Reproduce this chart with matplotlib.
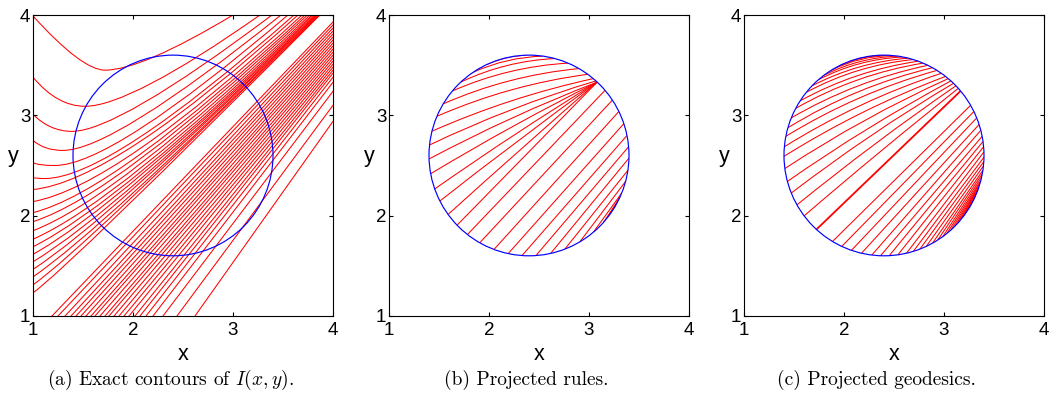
import numpy as np
import matplotlib
matplotlib.use("Agg")
import matplotlib.pyplot as plt
from matplotlib.patches import Circle, PathPatch
from matplotlib.path import Path

plt.rcParams["font.family"] = ["Liberation Sans", "DejaVu Sans"]
plt.rcParams["mathtext.fontset"] = "cm"

RED = "#ff0000"
BLUE = "#0000ff"
CENTER = (2.4, 2.6)
RADIUS = 1.0
TICKS = [1, 2, 3, 4]
CAPTIONS = ["(a) Exact contours of $I(x,y)$.", "(b) Projected rules.", "(c) Projected geodesics."]

# (a) contours that dip before turning up: left-edge start, start slope,
# lowest point, exit on the top edge and slope there
a_dip_y0 = [3.99, 3.38, 3.01, 2.75, 2.53, 2.38]
a_dip_s0 = [-1.1, -1.2, -1.0, -0.9, -0.7, -0.4]
a_dip_low_x = [1.72, 1.52, 1.39, 1.30, 1.22, 1.12]
a_dip_low_y = [3.45, 3.09, 2.84, 2.65, 2.50, 2.37]
a_dip_top_x = [3.00, 3.27, 3.39, 3.48, 3.55, 3.61]
a_dip_top_slope = [0.60, 0.70, 0.75, 0.80, 0.85, 0.88]

# (a) contours rising from the left edge straight up into the dense band
a_rise_y0 = [2.26, 2.14, 2.03, 1.94, 1.85, 1.765, 1.69, 1.615, 1.54, 1.465, 1.39, 1.31, 1.23]
a_rise_s0 = [0.10, 0.18, 0.25, 0.32, 0.38, 0.44, 0.50, 0.55, 0.60, 0.64, 0.68, 0.71, 0.74]
a_rise_top_x = [3.65, 3.69, 3.72, 3.745, 3.77, 3.79, 3.805, 3.82, 3.83, 3.84, 3.85, 3.86, 3.87]
a_rise_top_slope = [0.90, 0.92, 0.93, 0.94, 0.95, 0.96, 0.97, 0.97, 0.98, 0.98, 0.99, 0.99, 1.0]

# (a) contours below the gap: bottom-edge crossing -> right-edge crossing
a_low_bottom_x = [1.19, 1.25, 1.32, 1.38, 1.43, 1.48, 1.53, 1.58, 1.62, 1.67, 1.72, 1.76,
                  1.81, 1.86, 1.91, 1.96, 2.02, 2.07, 2.13, 2.20, 2.30, 2.44, 2.62]
a_low_right_y = [3.93, 3.90, 3.87, 3.84, 3.81, 3.78, 3.75, 3.72, 3.69, 3.66, 3.63, 3.60,
                 3.57, 3.54, 3.51, 3.48, 3.45, 3.42, 3.38, 3.33, 3.24, 3.10, 2.94]

# (b) projected rules, end points as angles (deg) on the circle
b_upper_start = [115, 124, 133, 140, 149, 157, 166, 174]
b_upper_end = [91, 82, 75, 67, 60, 54, 50, 48]
b_upper_bend = [0.10, 0.10, 0.10, 0.09, 0.08, 0.07, 0.05, 0.04]
b_fan_start = [182, 190.5, 199.5, 207, 216, 224]
b_fan_bend = [0.03, 0.02, 0.015, 0.01, 0.005, 0.0]
b_focus = 47
b_low_start = [232, 240.5, 249.5, 258, 266, 274, 282.5, 291, 300.5, 310, 318, 325, 331, 336]
b_low_end = [40.5, 33.5, 26, 18.5, 11.5, 5, -1.5, -8.5, -15, -22, -28, -33, -37, -40]

# (c) projected geodesics
c_upper_start = [103, 106, 110, 114, 118, 122, 127, 131, 136, 141, 147, 152, 158, 164,
                 169, 175, 180.5, 187.5, 195, 202, 209.5, 217]
c_upper_end = [96, 94, 92, 90, 88, 85, 82, 79, 76, 73, 70, 67, 64, 61, 58, 55, 52, 50,
               48, 46, 44, 42]
c_upper_bend = [0.12, 0.12, 0.12, 0.12, 0.12, 0.12, 0.11, 0.11, 0.10, 0.10, 0.09, 0.09,
                0.08, 0.08, 0.07, 0.06, 0.05, 0.04, 0.03, 0.03, 0.02, 0.01]
c_diag = (227.5, 40)
c_low_start = [239, 245, 251, 257, 263, 268, 273, 278, 283, 287, 291, 295, 299, 302.5,
               306, 309, 312, 315, 317.5, 320, 322, 324, 326, 327.5, 329, 330.5]
c_low_end = [30, 26, 22, 18, 14.5, 11, 8, 5, 2, -1, -3.5, -6, -8.5, -10.5, -12.5, -14.5,
             -16, -17.5, -19, -20.5, -21.5, -22.5, -23.5, -24.5, -25.5, -26.5]


def on_circle(deg):
    t = np.deg2rad(deg)
    return CENTER[0] + RADIUS * np.cos(t), CENTER[1] + RADIUS * np.sin(t)


def add_curve(ax, verts, codes, clip=None, lw=0.75):
    patch = PathPatch(Path(verts, codes), fill=False, ec=RED, lw=lw)
    ax.add_patch(patch)
    if clip is not None:
        patch.set_clip_path(clip)


def chord(ax, a0, a1, bend, clip, lw=0.75):
    x0, y0 = on_circle(a0)
    x1, y1 = on_circle(a1)
    dx, dy = x1 - x0, y1 - y0
    ctrl = ((x0 + x1) / 2 - bend * dy, (y0 + y1) / 2 + bend * dx)
    add_curve(ax, [(x0, y0), ctrl, (x1, y1)],
              [Path.MOVETO, Path.CURVE3, Path.CURVE3], clip, lw)


def add_circle(ax):
    circ = Circle(CENTER, RADIUS, fill=False, ec=BLUE, lw=0.85, zorder=3)
    ax.add_patch(circ)
    return circ


def style_axes(ax):
    ax.set_xlim(1, 4)
    ax.set_ylim(1, 4)
    ax.set_xticks(TICKS)
    ax.set_yticks(TICKS)
    ax.tick_params(direction="in", top=True, right=True, length=3, width=0.8,
                   labelsize=13.5)
    ax.tick_params(axis="x", pad=4)
    ax.tick_params(axis="y", pad=2)
    for sp in ax.spines.values():
        sp.set_linewidth(0.8)
    ax.text(0.5, -0.146, "x", transform=ax.transAxes, ha="center", va="baseline",
            fontsize=15.5)
    ax.text(-0.067, 0.51, "y", transform=ax.transAxes, ha="center", va="baseline",
            fontsize=15.5)


fig = plt.figure(figsize=(10.49, 3.98), dpi=100)
lefts = [33 / 1049, 389 / 1049, 744 / 1049]
axes = [fig.add_axes([l, 82 / 398, 300 / 1049, 301 / 398]) for l in lefts]
for ax in axes:
    style_axes(ax)

# (a) exact contours
ax = axes[0]
for y0, s0, lx, ly, tx, ts in zip(a_dip_y0, a_dip_s0, a_dip_low_x, a_dip_low_y,
                                  a_dip_top_x, a_dip_top_slope):
    c1 = (1 + (ly - y0) / s0, ly)
    c2 = (tx - (4 - ly) / ts, ly)
    add_curve(ax, [(1, y0), c1, (lx, ly), c2, (tx, 4)],
              [Path.MOVETO] + [Path.CURVE3] * 4)
for y0, s0, tx, ts in zip(a_rise_y0, a_rise_s0, a_rise_top_x, a_rise_top_slope):
    cx = (4 - y0 - ts * tx + s0) / (s0 - ts)
    cy = y0 + s0 * (cx - 1)
    add_curve(ax, [(1, y0), (cx, cy), (tx, 4)], [Path.MOVETO, Path.CURVE3, Path.CURVE3])
for bx, ry in zip(a_low_bottom_x, a_low_right_y):
    ax.plot([bx, 4], [1, ry], color=RED, lw=0.75)
add_circle(ax)

# (b) projected rules
ax = axes[1]
circ = add_circle(ax)
for a0, a1, bend in zip(b_upper_start, b_upper_end, b_upper_bend):
    chord(ax, a0, a1, bend, circ)
for a0, bend in zip(b_fan_start, b_fan_bend):
    chord(ax, a0, b_focus, bend, circ)
for a0, a1 in zip(b_low_start, b_low_end):
    chord(ax, a0, a1, 0.0, circ)

# (c) projected geodesics
ax = axes[2]
circ = add_circle(ax)
for a0, a1, bend in zip(c_upper_start, c_upper_end, c_upper_bend):
    chord(ax, a0, a1, bend, circ)
chord(ax, c_diag[0], c_diag[1], 0.0, circ, lw=1.3)
for a0, a1 in zip(c_low_start, c_low_end):
    chord(ax, a0, a1, 0.0, circ)

for cx, text in zip([171, 526, 876], CAPTIONS):
    fig.text(cx / 1049, 13 / 398, text, ha="center", va="baseline",
             family="cmr10", fontsize=14)

fig.savefig("out.png", dpi=100)
